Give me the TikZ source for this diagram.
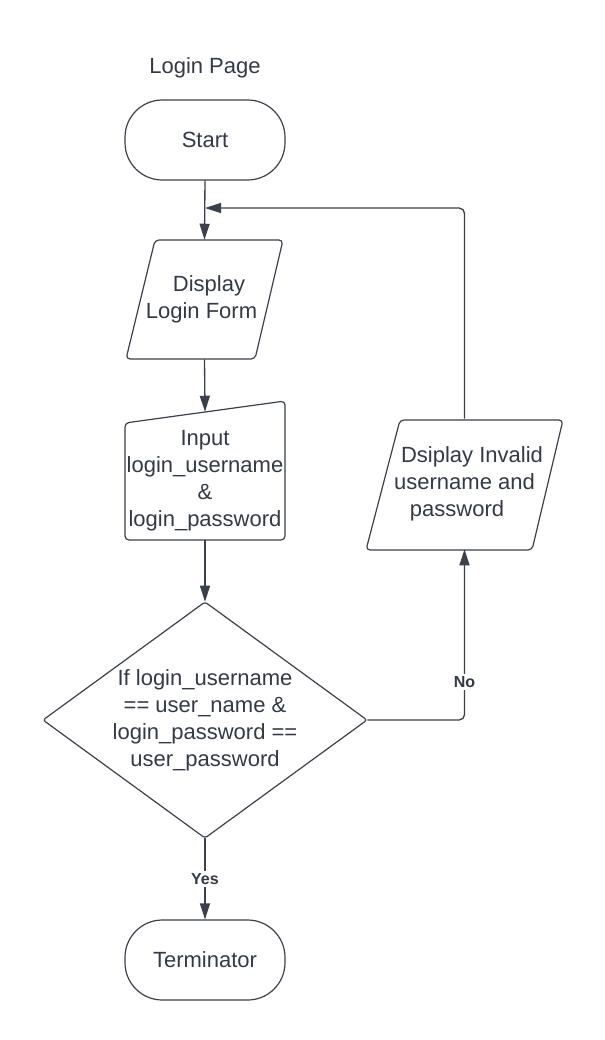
\documentclass[tikz,border=0pt]{standalone}
\usepackage{fontspec}
\setmainfont{Liberation Sans}
\usetikzlibrary{arrows.meta,shapes.geometric}
\definecolor{ink}{HTML}{3A414A}
\definecolor{txt}{HTML}{333A44}
\begin{document}
\begin{tikzpicture}[x=0.75pt,y=-0.75pt,
  font=\fontsize{16.5}{20.25}\selectfont, text=txt,
  box/.style={draw=ink, line width=0.9pt, minimum width=120pt, minimum height=60pt, rounded corners=28pt, align=center},
  hold/.style={inner sep=0pt, align=center},
  shp/.style={draw=ink, line width=0.9pt, rounded corners=3pt},
  conn/.style={draw=ink, line width=1pt, -{Triangle[length=12pt,width=7.5pt]}},
  lbl/.style={font=\fontsize{12}{14}\selectfont\bfseries, fill=white, inner sep=2pt}]
\useasboundingbox (0,0) rectangle (605,1040);

% title
\node[hold] (title) at (205,68) {Login Page};

% start
\node[box] (start) at (205,140) {Start};

% display login form (parallelogram)
\draw[shp] (126,359) -- (155,240) -- (283,240) -- (255,359) -- cycle;
\node[hold, minimum width=117.75pt, minimum height=89.25pt] (disp) at (204.5,299.5) {\kern6.75pt Display\\Login Form\kern4.5pt};

% manual input
\draw[shp] (125,540) -- (125,423) -- (285,401) -- (285,540) -- cycle;
\node[hold, minimum width=120pt, minimum height=96pt] (inp) at (205,476) {};
\node[hold] (inptext) at (205,480.5) {Input\\login\_username\\\&\\login\_password};

% decision diamond
\draw[shp, rounded corners=2pt] (205,602) -- (367,720) -- (205,838) -- (43,720) -- cycle;
\node[hold, minimum width=243pt, minimum height=177pt] (dec) at (205,720) {If login\_username\\== user\_name \&\\login\_password ==\\user\_password};

% invalid parallelogram
\draw[shp] (366,550) -- (400,420) -- (563,420) -- (532,550) -- cycle;
\node[hold, minimum width=147.75pt, minimum height=97.5pt] (inv) at (464.5,484) {\kern11.25pt Dsiplay Invalid\\username and\\password\kern11.25pt};

% terminator
\node[box] (term) at (205,960) {Terminator};

% connectors
\coordinate (join) at (205,208);
\draw[conn] (start.south) -- (disp.north);
\draw[conn] (disp.south) -- (inp.north);
\draw[conn] (inp.south) -- (dec.north);
\draw[conn] (dec.south) -- node[lbl] (yes) {Yes} (term.north);
\draw[conn, rounded corners=4pt] (dec.east) -| (inv.south);
\node[lbl] (no) at (inv.south |- 0,682) {No};
\draw[conn, rounded corners=4pt] (inv.north) |- (join);
\end{tikzpicture}
\end{document}
